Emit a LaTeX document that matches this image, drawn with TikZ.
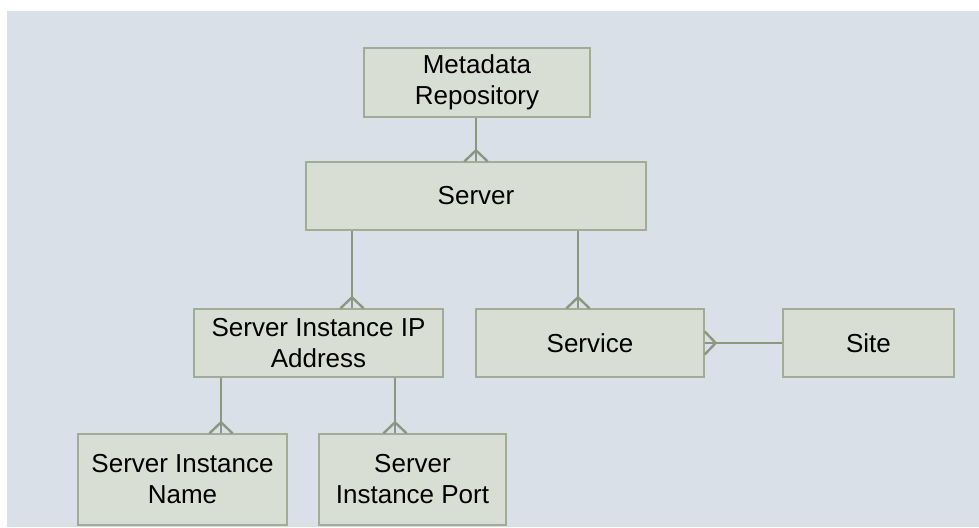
\documentclass[tikz,border=0pt]{standalone}
\usepackage{fontspec}
\setmainfont{Liberation Sans}
\usetikzlibrary{calc}
\definecolor{canvas}{RGB}{218,224,231}
\definecolor{boxfill}{RGB}{217,222,212}
\definecolor{boxline}{RGB}{160,172,150}
\definecolor{linkline}{RGB}{138,152,128}
\tikzset{
  entity/.style={rectangle, draw=boxline, fill=boxfill, line width=1.4pt,
    inner sep=0pt, align=center, font=\fontsize{26}{31}\selectfont},
  link/.style={draw=linkline, line width=2.4pt},
}
% crow's foot pointing down onto a box top at #1
\newcommand\footdown[1]{\draw[link] ($(#1)+(-11.5,0)$) -- ($(#1)+(0,-11)$) -- ($(#1)+(11.5,0)$);}
% crow's foot pointing left onto a box side at #1
\newcommand\footleft[1]{\draw[link] ($(#1)+(0,-11.5)$) -- ($(#1)+(11,0)$) -- ($(#1)+(0,11.5)$);}
\begin{document}
\begin{tikzpicture}[x=1pt,y=-1pt]
  \useasboundingbox[fill=white] (0,0) rectangle (979,527);
  \fill[canvas] (7,11) rectangle (979,527);

  \node[entity, minimum width=226, minimum height=69] (meta) at (477,82.5) {Metadata\\Repository};
  \node[entity, minimum width=340, minimum height=68] (server) at (476,196) {Server};
  \node[entity, minimum width=249, minimum height=68] (ip) at (318.5,343) {Server Instance IP\\Address};
  \node[entity, minimum width=228, minimum height=68] (service) at (590,343) {Service};
  \node[entity, minimum width=171, minimum height=68] (site) at (868.5,343) {Site};
  \node[entity, minimum width=209, minimum height=91] (name) at (182.5,479.5) {Server Instance\\Name};
  \node[entity, minimum width=187, minimum height=91] (port) at (412.5,479.5) {Server\\Instance Port};

  % attachment points on the child boxes
  \coordinate (serverTop) at (server.north);
  \coordinate (ipTop) at ([xshift=33.5]ip.north);
  \coordinate (serviceTop) at ([xshift=-12]service.north);
  \coordinate (nameTop) at ([xshift=38.5]name.north);
  \coordinate (portTop) at ([xshift=-17.5]port.north);
  \coordinate (serviceSide) at (service.east);

  \draw[link] (serverTop |- meta.south) -- (serverTop);
  \draw[link] (ipTop |- server.south) -- (ipTop);
  \draw[link] (serviceTop |- server.south) -- (serviceTop);
  \draw[link] (nameTop |- ip.south) -- (nameTop);
  \draw[link] (portTop |- ip.south) -- (portTop);
  \draw[link] (site.west) -- (serviceSide);

  \footdown{serverTop}
  \footdown{ipTop}
  \footdown{serviceTop}
  \footdown{nameTop}
  \footdown{portTop}
  \footleft{serviceSide}
\end{tikzpicture}
\end{document}
